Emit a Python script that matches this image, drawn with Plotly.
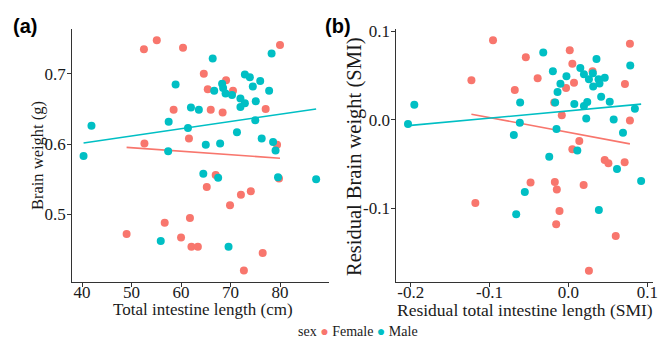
import numpy as np
import plotly.graph_objects as go

# ---------------- data ----------------
# Panel (a): Total intestine length (cm) vs Brain weight (g)
a_female_x = [52.5, 55.1, 60.4, 80.0, 64.6, 69.1, 65.4, 70.5, 58.5, 66.0, 68.4, 77.1,
              52.6, 61.6, 79.4, 67.0, 65.2, 79.8, 72.1, 74.1, 69.9, 61.8, 56.7, 49.0,
              60.0, 62.1, 63.4, 76.5, 72.7]
a_female_y = [0.735, 0.748, 0.737, 0.741, 0.700, 0.691, 0.678, 0.676, 0.649, 0.649, 0.645, 0.650,
              0.601, 0.608, 0.599, 0.556, 0.539, 0.551, 0.528, 0.533, 0.513, 0.495, 0.488, 0.472,
              0.467, 0.454, 0.454, 0.445, 0.420]
a_male_x = [40.3, 41.9, 58.9, 57.5, 57.4, 62.0, 61.4, 63.6, 66.4, 66.7, 68.3, 68.5, 69.0,
            70.3, 72.0, 72.9, 72.0, 75.1, 78.3, 72.9, 73.9, 76.0, 74.5, 77.8, 75.0, 71.3,
            65.0, 67.9, 76.3, 78.6, 79.1, 64.5, 67.5, 79.6, 87.3, 55.9, 69.6]
a_male_y = [0.583, 0.626, 0.685, 0.632, 0.590, 0.652, 0.623, 0.649, 0.722, 0.676, 0.686, 0.680, 0.672,
            0.670, 0.665, 0.658, 0.653, 0.661, 0.729, 0.699, 0.695, 0.690, 0.682, 0.676, 0.634, 0.617,
            0.599, 0.601, 0.608, 0.603, 0.591, 0.558, 0.552, 0.553, 0.550, 0.462, 0.454]

# Panel (b): Residual total intestine length (SMI) vs Residual Brain weight (SMI)
b_female_x = [-0.0956, -0.123, -0.054, -0.068, -0.039, 0.0017, 0.005, 0.0071, -0.003, 0.0306,
              0.078, 0.0717, 0.078, -0.018, -0.0084, 0.0138, 0.005, 0.046, 0.0507, 0.0713,
              -0.048, -0.0172, -0.0147, 0.0193, -0.118, -0.0113, -0.0155, 0.060, 0.026]
b_female_y = [0.0902, 0.0449, 0.0709, 0.0338, 0.0471, 0.0787, 0.0635, 0.0419, 0.036, 0.0549,
              0.0861, 0.0404, -0.0007, 0.0197, 0.0052, -0.0241, -0.0334, -0.0456, -0.0494, -0.0482,
              -0.0712, -0.0705, -0.079, -0.0738, -0.0942, -0.1035, -0.1184, -0.1317, -0.171]
b_male_x = [-0.0319, -0.0197, 0.0151, 0.0197, 0.0356, 0.0784, 0.026, 0.031, 0.0382, 0.0461,
            0.0394, 0.0314, -0.0025, -0.0101, -0.0138, -0.0168, 0.0075, 0.0197, 0.0239, 0.0415,
            0.0524, 0.0226, 0.0574, 0.0843, 0.0692, -0.0612, -0.0616, -0.0692, -0.0151, -0.0243,
            0.0113, -0.2034, -0.1954, 0.0616, 0.0922, -0.0553, -0.0662, 0.0386]
b_male_y = [0.0761, 0.0549, 0.0586, 0.0516, 0.069, 0.0616, 0.046, 0.0527, 0.046, 0.0475,
            0.0412, 0.0378, 0.0494, 0.0408, 0.0315, 0.0197, 0.0178, 0.0156, 0.020, 0.026,
            0.0204, 0.0015, 0.0004, 0.0126, -0.0148, 0.0197, -0.0033, -0.0174, -0.0104, -0.0419,
            -0.0349, -0.0048, 0.0171, -0.0557, -0.0694, -0.082, -0.1072, -0.1024]

a_xticks = [40, 50, 60, 70, 80]
a_xticklabels = ["40", "50", "60", "70", "80"]
a_yticks = [0.5, 0.6, 0.7]
a_yticklabels = ["0.5", "0.6", "0.7"]
b_xticks = [-0.2, -0.1, 0.0, 0.1]
b_xticklabels = ["-0.2", "-0.1", "0.0", "0.1"]
b_yticks = [-0.1, 0.0, 0.1]
b_yticklabels = ["-0.1", "0.0", "0.1"]

FEMALE = "#F8766D"
MALE = "#00BFC4"
FONT = "Liberation Serif"
AXC = "#333333"

fig = go.Figure()


def add_group(x, y, color, xa, ya):
    x = np.asarray(x)
    y = np.asarray(y)
    fig.add_trace(go.Scatter(x=x, y=y, mode="markers", xaxis=xa, yaxis=ya,
                             marker=dict(color=color, size=8), showlegend=False))
    slope, icpt = np.polyfit(x, y, 1)
    xs = np.array([x.min(), x.max()])
    fig.add_trace(go.Scatter(x=xs, y=icpt + slope * xs, mode="lines", xaxis=xa, yaxis=ya,
                             line=dict(color=color, width=1.6), showlegend=False))


add_group(a_female_x, a_female_y, FEMALE, "x", "y")
add_group(a_male_x, a_male_y, MALE, "x", "y")
add_group(b_female_x, b_female_y, FEMALE, "x2", "y2")
add_group(b_male_x, b_male_y, MALE, "x2", "y2")

ax_common = dict(showline=True, linecolor=AXC, linewidth=1, ticks="outside", ticklen=4,
                 tickcolor=AXC, showgrid=False, zeroline=False,
                 tickfont=dict(family=FONT, size=17, color="#1a1a1a"))
xax = dict(ticklabelstandoff=-10, **ax_common)
yax = dict(ticklabelstandoff=-2, **ax_common)

ydom = [0.1855, 0.9333]
fig.update_layout(
    width=672, height=345,
    margin=dict(l=0, r=0, t=0, b=0),
    font=dict(family=FONT),
    paper_bgcolor="white", plot_bgcolor="white",
    xaxis=dict(domain=[0.1082, 0.4940], range=[38.0, 90.0], tickvals=a_xticks,
               ticktext=a_xticklabels, anchor="y", **xax),
    yaxis=dict(domain=ydom, range=[0.4036, 0.7644], tickvals=a_yticks,
               ticktext=a_yticklabels, anchor="x", **yax),
    xaxis2=dict(domain=[0.5942, 0.9787], range=[-0.2182, 0.1070], tickvals=b_xticks,
                ticktext=b_xticklabels, anchor="y2", **xax),
    yaxis2=dict(domain=ydom, range=[-0.184, 0.1033], tickvals=b_yticks,
                ticktext=b_yticklabels, anchor="x2", **yax),
)

tfont = dict(family=FONT, size=17, color="#1a1a1a")
ann = [
    dict(text="<b>(a)</b>", x=0.038, y=0.942, font=dict(family="Liberation Sans", size=20, color="black")),
    dict(text="<b>(b)</b>", x=0.5074, y=0.942, font=dict(family="Liberation Sans", size=20, color="black")),
    dict(text="Total intestine length (cm)", x=0.305, y=0.104, font=tfont),
    dict(text="Residual total intestine length (SMI)", x=(0.5942 + 0.9787) / 2, y=0.104,
         font=dict(family=FONT, size=17.5, color="#1a1a1a")),
    dict(text="Brain weight (g)", x=0.0565, y=0.5594, textangle=-90,
         font=dict(family=FONT, size=16.5, color="#1a1a1a")),
    dict(text="Residual Brain weight (SMI)", x=0.5325, y=0.555, textangle=-90,
         font=dict(family=FONT, size=20.5, color="#1a1a1a")),
    dict(text=f"sex <span style='color:{FEMALE}'>●</span> Female <span style='color:{MALE}'>●</span> Male",
         x=0.537, y=0.0406, font=dict(family=FONT, size=14, color="#1a1a1a")),
]
for a in ann:
    fig.add_annotation(xref="paper", yref="paper", xanchor="center", yanchor="middle",
                       showarrow=False, **a)

fig.write_html("out.html", config={"displayModeBar": False},
               post_script="document.body.style.margin='0';document.body.style.padding='0';")
